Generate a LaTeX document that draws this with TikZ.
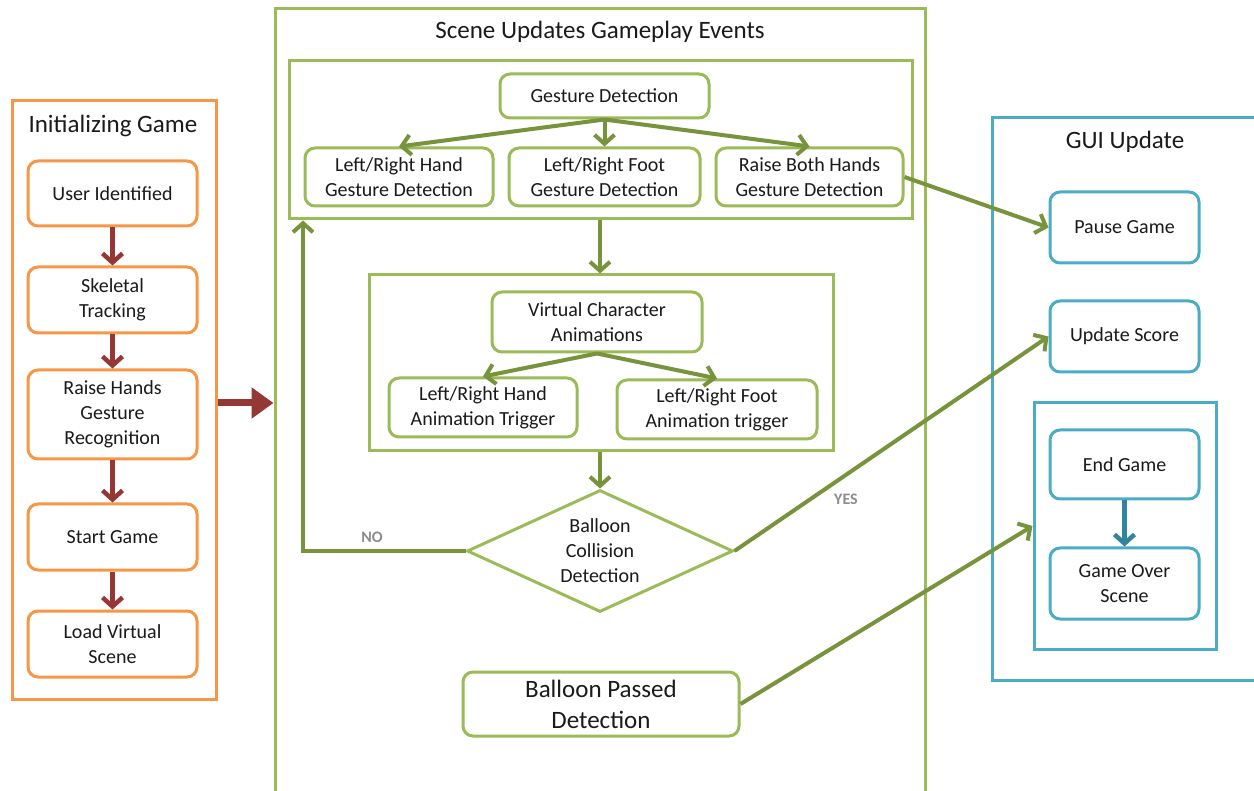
\documentclass[tikz,border=0pt]{standalone}
\usepackage{fontspec}
\setmainfont{Carlito}
\usetikzlibrary{arrows.meta,shapes.geometric}
\definecolor{orng}{HTML}{F79646}
\definecolor{redar}{HTML}{953735}
\definecolor{grn}{HTML}{9BBB59}
\definecolor{grar}{HTML}{77933C}
\definecolor{blu}{HTML}{4BACC6}
\definecolor{bluar}{HTML}{31859C}
\definecolor{txt}{HTML}{1A1A1A}
\definecolor{lblgray}{HTML}{8C8C8C}
\begin{document}
\begin{tikzpicture}[x=1pt,y=-1pt,
  box/.style={draw, rounded corners=10pt, line width=3pt, fill=white, align=center, inner sep=0pt, font=\fontsize{20}{25}\selectfont, text=txt},
  obox/.style={box, draw=orng, minimum width=169pt},
  gbox/.style={box, draw=grn},
  bbox/.style={box, draw=blu, minimum width=149pt},
  frame/.style={draw, line width=3pt, inner sep=0pt},
  title/.style={font=\fontsize{25}{30}\selectfont, text=txt},
  lbl/.style={font=\fontsize{16}{19}\selectfont\bfseries, text=lblgray},
  rarr/.style={draw=redar, line width=4.5pt, -{Straight Barb[length=9pt,width=20pt]}},
  garr/.style={draw=grar, line width=4pt, -{Straight Barb[length=9pt,width=20pt]}},
  barr/.style={draw=bluar, line width=4.5pt, -{Straight Barb[length=9pt,width=20pt]}}
]
\useasboundingbox (0,0) rectangle (1254,791);
\clip (0,0) rectangle (1254,791);

% ---------- Initializing Game ----------
\node[frame, draw=orng, minimum width=204pt, minimum height=598pt] (init) at (114,400) {};
\node[title] (inittitle) at (113,126) {Initializing Game};
\node[obox, minimum height=65pt] (ui) at (112.5,193.5) {User Identified};
\node[obox, minimum height=66pt] (st) at (112.5,300) {Skeletal\\Tracking};
\node[obox, minimum height=89pt] (rh) at (112.5,414.5) {Raise Hands\\Gesture\\Recognition};
\node[obox, minimum height=66pt] (sg) at (112.5,537) {Start Game};
\node[obox, minimum height=66pt] (lv) at (112.5,644) {Load Virtual\\Scene};
\draw[rarr] (ui) -- (st);
\draw[rarr] (st) -- (rh);
\draw[rarr] (rh) -- (sg);
\draw[rarr] (sg) -- (lv);

% ---------- Scene Updates Gameplay Events ----------
\node[frame, draw=grn, minimum width=650pt, minimum height=800pt] (scene) at (600,409) {};
\node[title] (scenetitle) at (600,32) {Scene Updates Gameplay Events};
\draw[draw=redar, line width=7pt, -{Triangle[length=22pt,width=30pt]}] (init.east |- 0,403) -- (scene.west |- 0,403);

\node[frame, draw=grn, fill=white, minimum width=623pt, minimum height=158pt] (gest) at (600.5,140) {};
\node[gbox, minimum width=209pt, minimum height=44pt] (gd) at (604.5,96) {Gesture Detection};
\node[gbox, minimum width=188pt, minimum height=58pt] (lrhg) at (399,177) {Left/Right Hand\\Gesture Detection};
\node[gbox, minimum width=191pt, minimum height=58pt] (lrfg) at (604.5,177) {Left/Right Foot\\Gesture Detection};
\node[gbox, minimum width=187pt, minimum height=58pt] (rbh) at (809.5,177) {Raise Both Hands\\Gesture Detection};
\draw[garr] (gd.south) -- (lrhg.north);
\draw[garr] (gd.south) -- (lrfg.north);
\draw[garr] (gd.south) -- (rbh.north);

\node[frame, draw=grn, fill=white, minimum width=464pt, minimum height=176pt] (anim) at (601,363) {};
\draw[garr] (gest.south -| 600,0) -- (anim.north -| 600,0);
\node[gbox, minimum width=210pt, minimum height=60pt] (vca) at (597,322) {Virtual Character\\Animations};
\node[gbox, minimum width=188pt, minimum height=59pt] (lrha) at (483,407.5) {Left/Right Hand\\Animation Trigger};
\node[gbox, minimum width=200pt, minimum height=59pt] (lrfa) at (717,409.5) {Left/Right Foot\\Animation trigger};
\draw[garr] (vca.south) -- (lrha.north);
\draw[garr] (vca.south) -- (lrfa.north);

\node[diamond, draw=grn, line width=3pt, fill=white, aspect=2.18, minimum width=266pt, minimum height=122pt, inner sep=0pt, align=center, font=\fontsize{20}{25}\selectfont, text=txt] (dia) at (600,551) {Balloon\\Collision\\Detection};
\draw[garr] (anim.south -| 600,0) -- (dia.north);

\coordinate (nocorner) at (303,551);
\draw[garr] (dia.west) -- (nocorner) -- (nocorner |- gest.south);
\node[lbl] (nolbl) at (372,537) {NO};

\node[gbox, minimum width=276pt, minimum height=64pt, font=\fontsize{25}{31}\selectfont] (bpd) at (601,704) {Balloon Passed\\Detection};

% ---------- GUI Update ----------
\node[frame, draw=blu, minimum width=278pt, minimum height=562pt] (gui) at (1131,399) {};
\node[title] (guititle) at (1125,142) {GUI Update};
\node[bbox, minimum height=71pt] (pause) at (1124.5,227.5) {Pause Game};
\node[bbox, minimum height=71pt] (score) at (1124.5,336.5) {Update Score};
\node[frame, draw=blu, minimum width=182pt, minimum height=246pt] (endbox) at (1125,526) {};
\node[bbox, minimum height=69pt] (eg) at (1124.5,464.5) {End Game};
\node[bbox, minimum height=71pt] (go) at (1124.5,583.5) {Game Over\\Scene};
\draw[barr] (eg) -- (go);

% ---------- cross connectors ----------
\draw[garr] (rbh.east) -- (pause.west);
\draw[garr] (dia.east) -- (score.west);
\node[lbl] (yeslbl) at (846,499) {YES};
\draw[garr] (bpd.east) -- (endbox.west);
\end{tikzpicture}
\end{document}
